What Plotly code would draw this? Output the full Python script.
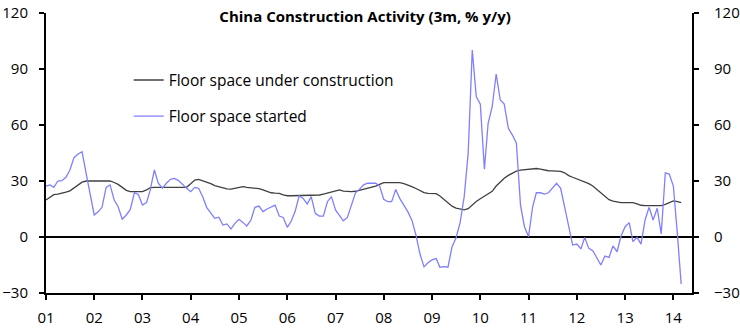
import pandas as pd
import plotly.graph_objects as go

months = pd.date_range("2001-01-01", periods=159, freq="MS")

under_construction = [
    19.8, 21.5, 22.7, 23.0, 23.4, 24.0, 24.7, 26.3, 28.0, 29.4, 30.0, 30.0,
    30.0, 30.0, 30.0, 30.0, 30.0, 29.2, 28.2, 26.6, 25.0, 24.3, 24.3, 24.3,
    24.3, 25.2, 26.4, 26.6, 26.6, 26.6, 26.6, 26.6, 26.6, 26.6, 26.6, 26.6,
    28.5, 30.5, 30.9, 30.2, 29.5, 28.6, 27.5, 26.8, 26.3, 25.8, 25.6, 26.0,
    26.5, 27.0, 26.6, 26.4, 26.4, 25.9, 25.2, 24.4, 23.7, 23.5, 23.4, 22.6,
    22.1, 22.1, 22.1, 22.1, 22.1, 22.1, 22.1, 22.1, 22.5, 23.0, 23.5, 24.2,
    24.8, 25.2, 24.6, 24.3, 24.3, 24.5, 25.0, 25.4, 26.1, 26.7, 27.3, 28.2,
    29.1, 29.1, 29.1, 29.1, 29.1, 28.6, 27.9, 27.0, 26.0, 24.8, 23.8, 23.4,
    23.4, 23.2, 22.0, 20.0, 18.4, 16.5, 15.5, 14.8, 14.5, 15.2, 17.2, 19.0,
    20.5, 22.0, 23.0, 24.5, 27.3, 29.6, 31.5, 33.0, 34.2, 35.3, 35.8, 36.0,
    36.2, 36.6, 36.7, 36.4, 35.9, 35.5, 35.4, 35.4, 35.2, 34.4, 32.9, 32.0,
    31.2, 30.0, 29.3, 28.6, 27.3, 25.5, 23.8, 22.0, 20.0, 19.2, 18.6, 18.4,
    18.4, 18.4, 18.4, 17.8, 17.0, 16.8, 16.8, 16.8, 16.8, 16.8, 17.5, 18.6,
    19.3, 19.0, 18.4,
]

started = [
    27.3, 27.9, 26.6, 30.0, 30.2, 32.0, 35.9, 42.5, 44.5, 45.7, 34.0, 22.5,
    11.8, 13.6, 15.9, 26.6, 27.9, 19.8, 16.2, 9.5, 11.8, 14.8, 23.7, 22.8,
    17.1, 18.4, 25.2, 35.9, 28.8, 26.1, 28.8, 30.9, 31.4, 30.2, 27.9, 26.1,
    24.3, 26.6, 26.1, 21.6, 15.9, 12.7, 10.0, 10.6, 6.4, 7.0, 4.3, 7.3,
    9.5, 7.7, 5.9, 9.1, 15.9, 16.6, 13.6, 15.0, 16.0, 17.1, 11.2, 10.5,
    5.2, 8.7, 13.6, 22.1, 20.7, 17.7, 21.6, 12.7, 11.2, 11.2, 18.9, 21.6,
    14.5, 11.2, 8.7, 10.5, 17.1, 23.7, 25.5, 27.9, 28.8, 28.8, 28.8, 27.3,
    20.2, 18.9, 18.9, 25.5, 20.7, 17.1, 13.6, 9.0, 1.0, -9.0, -16.0, -13.8,
    -12.3, -11.6, -16.2, -15.9, -16.2, -5.2, -0.5, 7.7, 21.6, 44.8, 100.2, 75.2,
    71.2, 36.3, 60.9, 69.8, 87.3, 73.4, 71.2, 58.2, 54.6, 50.2, 17.1, 5.5,
    0.2, 16.2, 23.7, 23.7, 23.0, 23.7, 26.1, 28.8, 26.1, 16.2, 7.3, -4.3,
    -3.8, -6.4, -0.2, -6.1, -7.3, -11.4, -15.0, -10.2, -10.9, -4.8, -7.9, 0.5,
    5.5, 7.7, -2.5, -0.2, -3.8, 9.1, 15.9, 9.1, 15.4, 1.6, 34.4, 33.7,
    27.3, 1.0, -25.2,
]

y_ticks = [-30, 0, 30, 60, 90, 120]
title_text = "China Construction Activity (3m, % y/y)"
names = ["Floor space under construction", "Floor space started"]

FONT = "'Open Sans', sans-serif"

fig = go.Figure()
fig.add_trace(go.Scatter(x=months, y=under_construction, mode="lines", name=names[0],
                         line=dict(color="#404040", width=1.3), legendgroup="a"))
fig.add_trace(go.Scatter(x=months, y=started, mode="lines", name=names[1],
                         line=dict(color="#7f7fff", width=1.3), legendgroup="b"))
# invisible trace to activate the right-hand axis
fig.add_trace(go.Scatter(x=months, y=under_construction, mode="lines", yaxis="y2",
                         line=dict(width=0), opacity=0, showlegend=False, hoverinfo="skip"))

axis_common = dict(
    range=[-30, 120], tickvals=y_ticks, showgrid=False, showline=True,
    linecolor="black", linewidth=2, ticks="outside", ticklen=5, tickwidth=1.5,
    tickcolor="black", tickfont=dict(family=FONT, size=15, color="black"),
    automargin=False,
)

fig.update_layout(
    template="none",
    width=740, height=328,
    margin=dict(l=46, r=48, t=13, b=35, autoexpand=False),
    paper_bgcolor="white", plot_bgcolor="white",
    showlegend=True,
    legend=dict(x=0.128, y=0.82, xanchor="left", yanchor="top",
                bgcolor="rgba(0,0,0,0)", font=dict(family=FONT, size=15.5, color="black"),
                itemwidth=30, traceorder="grouped", tracegroupgap=13),
    title=dict(text="<b>" + title_text + "</b>", x=0.494, xref="paper",
               y=1 - 17 / 328, yref="container", xanchor="center", yanchor="middle",
               font=dict(family=FONT, size=15, color="black")),
    xaxis=dict(type="date", range=["2001-01-01", "2014-05-22"], tickformat="%y",
               dtick="M12", tick0="2001-01-01", showgrid=False, showline=True,
               linecolor="black", linewidth=2, ticks="outside", ticklen=5,
               tickwidth=1.5, tickcolor="black", ticklabelstandoff=5,
               automargin=False, zeroline=False,
               tickfont=dict(family=FONT, size=15, color="black")),
    yaxis=dict(**axis_common, side="left", zeroline=True, zerolinecolor="black",
               zerolinewidth=2, ticklabelstandoff=8),
    yaxis2=dict(**axis_common, side="right", overlaying="y", zeroline=False,
                ticklabelstandoff=12),
)

fig.write_html("out.html")
